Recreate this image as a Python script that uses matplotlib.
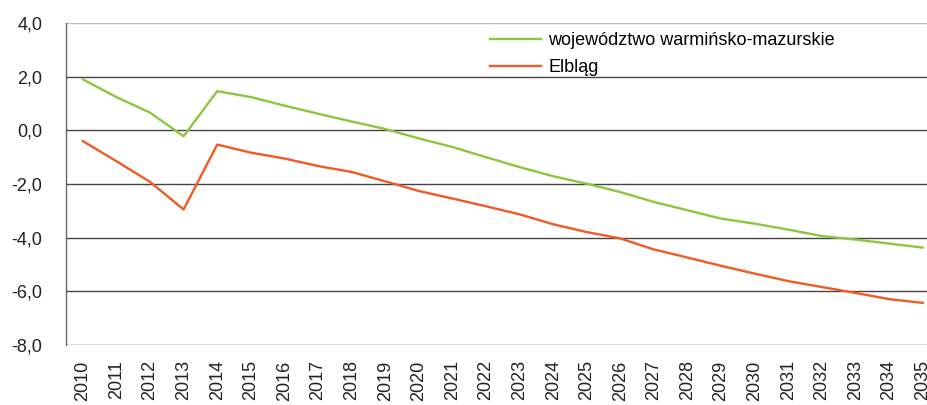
import matplotlib
matplotlib.use("Agg")
import matplotlib.pyplot as plt
from matplotlib import font_manager

years = [str(y) for y in range(2010, 2036)]
woj = [1.90, 1.24, 0.66, -0.22, 1.46, 1.24, 0.92, 0.62, 0.33, 0.05, -0.30, -0.62,
       -1.00, -1.37, -1.71, -1.99, -2.30, -2.67, -2.98, -3.29, -3.48, -3.70,
       -3.94, -4.07, -4.22, -4.37]
elblag = [-0.40, -1.15, -1.92, -2.95, -0.53, -0.83, -1.05, -1.33, -1.55, -1.90,
          -2.26, -2.54, -2.83, -3.13, -3.50, -3.79, -4.03, -4.44, -4.74, -5.05,
          -5.34, -5.62, -5.84, -6.06, -6.29, -6.43]
labels = ["województwo warmińsko-mazurskie", "Elbląg"]
yticks = [4, 2, 0, -2, -4, -6, -8]
ytick_labels = ["4,0", "2,0", "0,0", "-2,0", "-4,0", "-6,0", "-8,0"]

names = {f.name for f in font_manager.fontManager.ttflist}
fam = "Liberation Sans Narrow" if "Liberation Sans Narrow" in names else "Liberation Sans"
plt.rcParams['font.family'] = [fam, 'DejaVu Sans']

W, H = 928, 405
fig = plt.figure(figsize=(W / 100, H / 100), dpi=100)
ax = fig.add_axes([66 / W, (H - 345) / H, (939.5 - 66) / W, (345 - 23) / H])

x = list(range(len(years)))
ax.plot(x, woj, color="#8cc63f", lw=1.7, label=labels[0], solid_joinstyle="round")
ax.plot(x, elblag, color="#f15a24", lw=1.7, label=labels[1], solid_joinstyle="round")

ax.set_xlim(-0.5, len(years) - 0.5)
ax.set_ylim(-8, 4)
ax.set_yticks(yticks)
ax.set_yticklabels(ytick_labels)
ax.set_xticks(x)
ax.set_xticklabels(years, rotation=90, va="top")
ax.tick_params(axis="y", length=0, pad=17, labelsize=13, colors="#222222")
ax.tick_params(axis="x", length=0, pad=11, labelsize=13, colors="#222222")

for v in yticks:
    c = "#bbbbbb" if v == 4 else "#444444"
    ax.axhline(v, color=c, lw=1, zorder=0)
for s in ["top", "right", "bottom"]:
    ax.spines[s].set_visible(False)
ax.spines["left"].set_color("#666666")
ax.spines["left"].set_linewidth(1)

ax.legend(loc="upper left", bbox_to_anchor=(485 / W, (H - 27) / H), bbox_transform=fig.transFigure,
          frameon=False, fontsize=13, handlelength=2.8, handletextpad=0.4, labelspacing=0.55,
          borderaxespad=0, borderpad=0.3)

fig.savefig("out.png", dpi=100)
